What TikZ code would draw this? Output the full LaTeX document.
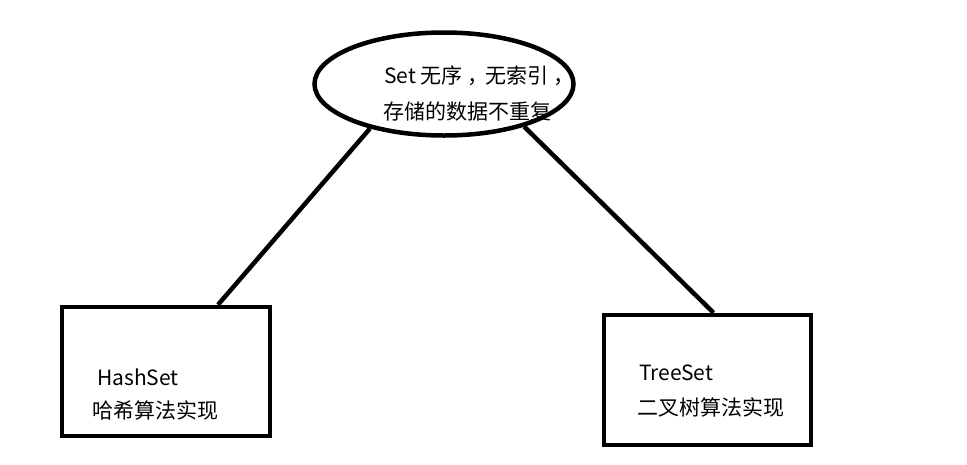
\documentclass[tikz,border=0pt]{standalone}
\usepackage{fontspec}
\setmainfont{Noto Sans CJK SC}
\usetikzlibrary{shapes.geometric,calc}
\newcommand{\midcomma}{\kern5pt，\kern-3pt}
\begin{document}
\begin{tikzpicture}[x=1pt,y=-1pt,
  thick4/.style={line width=4.5pt},
  bubble/.style={draw,thick4,ellipse,inner sep=0pt,minimum width=259pt,minimum height=103pt},
  boxnode/.style={draw,thick4,rectangle,inner sep=0pt},
  label/.style={anchor=base west,inner sep=0pt,font=\fontsize{21}{25}\selectfont},
  link/.style={thick4}]
\useasboundingbox[fill=white] (0,0) rectangle (967,464);
\node[bubble] (set) at (444,84) {};
\node[boxnode,minimum width=208pt,minimum height=129pt] (hash) at (166,371.5) {};
\node[boxnode,minimum width=207pt,minimum height=130pt] (tree) at (707.5,380) {};
\node[label] (setA) at (384,83) {Set 无序\midcomma 无索引\midcomma};
\node[label] (setB) at (383,119) {存储的数据不重复};
\node[label] (hashA) at (97,385) {HashSet};
\node[label] (hashB) at (92,418) {哈希算法实现};
\node[label] (treeA) at (639,380) {TreeSet};
\node[label] (treeB) at (637,415) {二叉树算法实现};
\coordinate (hashTop) at ($(hash.north)+(52,0)$);
\coordinate (treeTop) at ($(tree.north)+(6,0)$);
\draw[link] (set.211) -- (hashTop);
\draw[link] (set.-28) -- (treeTop);
\end{tikzpicture}
\end{document}
